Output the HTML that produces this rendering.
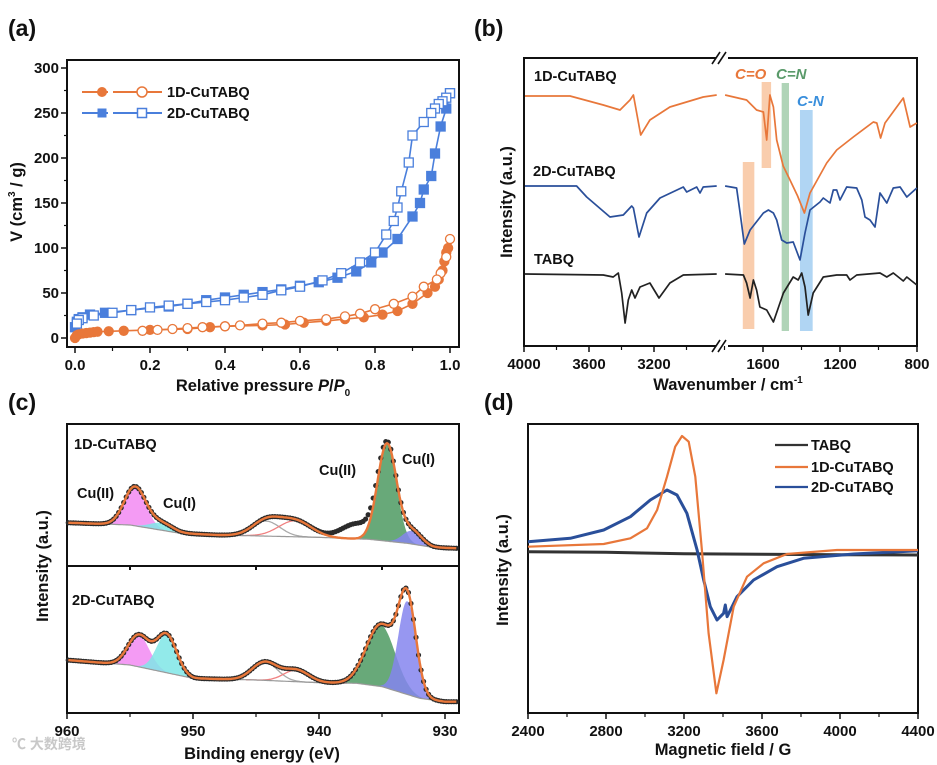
<!DOCTYPE html>
<html><head><meta charset="utf-8">
<style>
html,body{margin:0;padding:0;background:#fff;}
svg{display:block;}
text{font-family:"Liberation Sans",Arial,sans-serif;font-weight:bold;fill:#111;}
.tk{font-size:15px;}
.ttl{font-size:16.5px;}
.pl{font-size:23px;}
.lg{font-size:14.5px;}
</style></head>
<body>
<svg id="fig" width="937" height="765" viewBox="0 0 937 765" xmlns="http://www.w3.org/2000/svg">
<text class="pl" x="8" y="36">(a)</text>
<text class="pl" x="474" y="36">(b)</text>
<text class="pl" x="8" y="410">(c)</text>
<text class="pl" x="484" y="410">(d)</text>

<g>
<rect x="67" y="60" width="392" height="287" fill="none" stroke="#111" stroke-width="2"/>
<text class="ttl" x="263" y="391" text-anchor="middle">Relative pressure <tspan font-style="italic">P</tspan>/<tspan font-style="italic">P</tspan><tspan font-size="10" dy="5">0</tspan></text>
<text class="ttl" transform="translate(22,202) rotate(-90)" text-anchor="middle">V (cm<tspan font-size="10" dy="-7">3</tspan><tspan dy="7"> / g)</tspan></text>
<g id="legA">
<line x1="82" y1="92" x2="162" y2="92" stroke="#e8773a" stroke-width="2" stroke-dasharray="26,5"/>
<circle cx="102" cy="92" r="5" fill="#e8773a"/>
<circle cx="142" cy="92" r="5" fill="#fff" stroke="#e8773a" stroke-width="1.5"/>
<text class="lg" x="167" y="97">1D-CuTABQ</text>
<line x1="82" y1="113" x2="162" y2="113" stroke="#4a7fdc" stroke-width="2" stroke-dasharray="26,5"/>
<rect x="97.5" y="108.5" width="9" height="9" fill="#4a7fdc"/>
<rect x="137.5" y="108.5" width="9" height="9" fill="#fff" stroke="#4a7fdc" stroke-width="1.5"/>
<text class="lg" x="167" y="118">2D-CuTABQ</text>
</g>
</g>

<g>
<rect x="524" y="58" width="393" height="288" fill="none" stroke="#111" stroke-width="2"/>
<rect x="716" y="50" width="12" height="12" fill="#fff"/>
<rect x="716" y="340" width="12" height="12" fill="#fff"/>
<path d="M712 64 L720 52 M718 64 L726 52 M712 352 L720 340 M718 352 L726 340" stroke="#111" stroke-width="1.6"/>
<g id="bandsB"></g>
<text class="tk" x="735" y="79" style="fill:#e8773a;font-style:italic">C=O</text>
<text class="tk" x="776" y="79" style="fill:#5a9a6a;font-style:italic">C=N</text>
<text class="tk" x="797" y="106" style="fill:#3a8fdc;font-style:italic">C-N</text>
<text class="lg" x="534" y="81">1D-CuTABQ</text>
<text class="lg" x="533" y="176">2D-CuTABQ</text>
<text class="lg" x="534" y="264">TABQ</text>
<text class="ttl" x="728" y="390" text-anchor="middle">Wavenumber / cm<tspan font-size="10" dy="-7">-1</tspan></text>
<text class="ttl" transform="translate(512,202) rotate(-90)" text-anchor="middle">Intensity (a.u.)</text>
</g>

<g>
<rect x="67" y="424" width="392" height="289" fill="none" stroke="#111" stroke-width="2"/>
<line x1="67" y1="566" x2="459" y2="566" stroke="#111" stroke-width="2"/>
<text class="lg" x="74" y="449">1D-CuTABQ</text>
<text class="lg" x="72" y="605">2D-CuTABQ</text>
<text class="lg" x="77" y="498">Cu(II)</text>
<text class="lg" x="163" y="508">Cu(I)</text>
<text class="lg" x="319" y="475">Cu(II)</text>
<text class="lg" x="402" y="464">Cu(I)</text>
<text class="ttl" x="262" y="759" text-anchor="middle">Binding energy (eV)</text>
<text class="ttl" transform="translate(48,566) rotate(-90)" text-anchor="middle">Intensity (a.u.)</text>
<text x="12" y="749" style="font-size:14px;fill:#c8c8c8;font-family:'Liberation Sans','Noto Sans CJK SC',sans-serif">℃ 大数跨境</text>
</g>

<g>
<rect x="528" y="424" width="390" height="289" fill="none" stroke="#111" stroke-width="2"/>
<line x1="775" y1="445" x2="808" y2="445" stroke="#333" stroke-width="2.2"/>
<text class="lg" x="811" y="450">TABQ</text>
<line x1="775" y1="467" x2="808" y2="467" stroke="#e8773a" stroke-width="2.2"/>
<text class="lg" x="811" y="472">1D-CuTABQ</text>
<line x1="775" y1="487" x2="808" y2="487" stroke="#2a4f9a" stroke-width="2.2"/>
<text class="lg" x="811" y="492">2D-CuTABQ</text>
<text class="ttl" x="723" y="755" text-anchor="middle">Magnetic field / G</text>
<text class="ttl" transform="translate(508,570) rotate(-90)" text-anchor="middle">Intensity (a.u.)</text>
</g>
<g id="marks"></g>
</svg>
<script>
// ---------- Panel (a) data ----------
const a1AdsX=[0,0.005,0.01,0.02,0.03,0.04,0.05,0.06,0.09,0.13,0.2,0.3,0.36,0.4,0.5,0.56,0.61,0.67,0.72,0.77,0.82,0.86,0.9,0.94,0.96,0.97,0.98,0.985,0.99,0.995];
const a1AdsY=[0,3,4,5,5.5,6,6.5,7,7.5,8,9,10,12,13,14,15,17,19,21,23,26,30,38,50,57,65,75,85,95,100];
const a1DesX=[1.0,0.99,0.975,0.965,0.93,0.9,0.85,0.8,0.76,0.72,0.67,0.6,0.55,0.5,0.44,0.4,0.34,0.3,0.26,0.22,0.18];
const a1DesY=[110,90,72,65,57,46,38,32,27,24,21,19,17,16,14,13,12,11,10,9,8];
const a2AdsX=[0,0.005,0.01,0.02,0.04,0.08,0.15,0.25,0.3,0.35,0.4,0.45,0.5,0.55,0.6,0.65,0.7,0.75,0.79,0.82,0.86,0.9,0.92,0.93,0.95,0.96,0.975,0.99,1.0];
const a2AdsY=[12,18,21,23,26,28,31,35,38,42,45,48,51,54,58,62,67,74,84,95,110,135,150,165,180,205,235,255,272];
const a2DesX=[1.0,0.99,0.98,0.97,0.96,0.95,0.93,0.9,0.89,0.87,0.86,0.85,0.83,0.8,0.76,0.71,0.66,0.6,0.55,0.5,0.45,0.4,0.35,0.3,0.25,0.2,0.15,0.1,0.05,0.02,0.01,0.005];
const a2DesY=[272,267,263,260,255,250,240,225,195,163,145,130,115,95,84,72,64,57,53,48,45,42,40,38,36,34,31,28,25,22,20,16];
const aXTicks=[0,0.2,0.4,0.6,0.8,1.0];
const aXTickLabels=["0.0","0.2","0.4","0.6","0.8","1.0"];
const aYTicks=[0,50,100,150,200,250,300];

// ---------- Panel (b) data: [wavenumber, intensity a.u.] ----------
const ir1DLeft=[[3994,250],[3717,250],[3512,241],[3409,236],[3348,246],[3327,251],[3282,211],[3225,226],[3102,239],[2897,249],[2814,251]];
const ir1DRight=[[1797,251],[1685,246],[1633,236],[1598,234],[1581,206],[1564,251],[1546,239],[1529,206],[1495,180],[1460,166],[1420,150],[1385,133],[1356,153],[1269,183],[1217,196],[1131,209],[1027,224],[1009,223],[989,208],[966,223],[871,248],[836,219],[801,223]];
const ir2DLeft=[[3994,160],[3676,160],[3614,149],[3471,129],[3389,131],[3337,140],[3327,138],[3292,109],[3245,133],[3163,148],[3020,159],[2999,154],[2937,159],[2917,153],[2897,159],[2814,160]];
const ir2DRight=[[1797,160],[1737,158],[1719,133],[1697,102],[1667,116],[1598,133],[1572,136],[1546,133],[1529,126],[1503,106],[1477,103],[1443,104],[1408,86],[1382,113],[1356,136],[1304,144],[1287,148],[1252,143],[1235,156],[1217,156],[1200,146],[1165,159],[1113,158],[1087,146],[1070,129],[1044,126],[1018,119],[992,153],[957,143],[923,158],[888,159],[853,149],[801,158]];
const irTLeft=[[3994,72],[3512,71],[3451,69],[3420,73],[3399,53],[3378,23],[3358,46],[3337,56],[3317,48],[3286,59],[3225,63],[3169,48],[3102,63],[3020,71],[2814,72]];
const irTRight=[[1797,72],[1702,71],[1685,63],[1667,48],[1650,66],[1633,56],[1616,39],[1581,36],[1546,24],[1494,53],[1443,69],[1417,66],[1399,73],[1382,59],[1365,31],[1339,53],[1287,69],[1217,71],[1165,71],[1148,66],[1113,71],[992,73],[957,69],[923,73],[871,65],[853,69],[801,61]];
const bTicks=[4000,3600,3200,1600,1200,800];
const bMinor=[3800,3400,3000,1800,1400,1000];
const bBands=[[1607,1558,178,264,"#f7b88a","band-c-o-upper"],[1705,1645,17,184,"#f7b88a","band-c-o-lower"],[1503,1465,15,263,"#8fc29a","band-c-n-double"],[1408,1342,15,236,"#8ec3ee","band-c-n-single"]];

// ---------- Panel (c) data ----------
const cTopBg=[[960,132],[955,125],[951,100],[948,95],[940,88],[936,82],[933,70],[931,58],[929,55]];
const cTopPeaks=[[954.6,117,0.85,"#f28af2","pink"],[952.5,22,0.9,"#7fe6e6","cyan"],[944.2,45,1.1,"none","gray"],[941.9,48,1.3,"none","red"],[934.6,293,0.75,"#4e9a62","green"],[932.6,40,0.75,"#8585ee","blue"]];
const cTopExtra=[[937.0,45,1.2]];
const cBotBg=[[960,220],[955,205],[950,165],[945,160],[940,152],[937,150],[935,140],[932,105],[930,95],[929,95]];
const cBotPeaks=[[954.3,95,0.85,"#f28af2","pink"],[952.1,115,0.8,"#7fe6e6","cyan"],[944.3,55,1.0,"none","gray"],[941.8,35,1.0,"none","red"],[935.1,185,1.15,"#4e9a62","green"],[933.0,280,0.7,"#8585ee","blue"]];
const cTicks=[960,950,940,930];
const cMinor=[955,945,935];

// ---------- Panel (d) data ----------
const epr1D=[[2400,220],[2788,228],[2925,245],[3010,275],[3062,330],[3113,430],[3155,520],[3190,552],[3224,535],[3258,430],[3292,210],[3326,-40],[3366,-220],[3403,-120],[3455,40],[3523,130],[3608,170],[3728,198],[3985,210],[4400,210]];
const epr2D=[[2400,235],[2617,245],[2788,270],[2925,310],[3027,360],[3113,390],[3164,375],[3215,320],[3267,210],[3301,120],[3335,40],[3369,0],[3403,20],[3412,45],[3421,10],[3472,70],[3557,120],[3677,160],[3813,185],[4070,198],[4400,208]];
const eprT=[[2400,205],[2800,203],[3200,199],[3600,197],[4000,196],[4400,195]];
const dTicks=[2400,2800,3200,3600,4000,4400];
const dMinor=[2600,3000,3400,3800,4200];

const xA=v=>75+v*375, yA=v=>338-v*0.9;
const xB=w=>w>=2200?524+(4000-w)*65/400:763+(1600-w)*77/400, yB=v=>346-v;
const xC=e=>67+(960-e)*12.6, yCt=v=>400+(500-v)/3, yCb=v=>400+(1000-v)/3;
const xD=g=>528+(g-2400)*0.195, yD=v=>400+(660-v)/3;

const NS="http://www.w3.org/2000/svg";
const root=document.getElementById('marks');
function mk(tag,attrs,parent){const e=document.createElementNS(NS,tag);for(const k in attrs)e.setAttribute(k,attrs[k]);(parent||root).appendChild(e);return e;}
function pathOf(pts,fx,fy){return pts.map((p,i)=>(i?'L':'M')+fx(p[0]).toFixed(1)+' '+fy(p[1]).toFixed(1)).join(' ');}
function txt(x,y,s,anchor,name){const t=mk('text',{x:x,y:y,'text-anchor':anchor,'class':'tk'});t.textContent=s;


return t;}

aYTicks.forEach((v,i)=>{
 const l=mk('line',{x1:61,x2:67,y1:yA(v),y2:yA(v),stroke:'#111','stroke-width':1.5});
 
 
 txt(59,yA(v)+5,String(v),'end','y-tick-label-a');
 if(i<aYTicks.length-1){const m=mk('line',{x1:64,x2:67,y1:yA(v+25),y2:yA(v+25),stroke:'#111','stroke-width':1.2});
 
 }
});
aXTicks.forEach((v,i)=>{
 const l=mk('line',{x1:xA(v),x2:xA(v),y1:347,y2:353,stroke:'#111','stroke-width':1.5});
 
 
 txt(xA(v),370,aXTickLabels[i],'middle','x-tick-label-a');
 if(i<aXTicks.length-1){const m=mk('line',{x1:xA(v+0.1),x2:xA(v+0.1),y1:347,y2:351,stroke:'#111','stroke-width':1.2});
 
 }
});
function seriesA(xs,ys,color,shape,filled,name){
 const pts=xs.map((x,i)=>[x,ys[i]]);
 const p=mk('path',{d:pathOf(pts,xA,yA),fill:'none',stroke:color,'stroke-width':1.6});
 
 
 pts.forEach(q=>{
  let m;
  if(shape==='c') m=mk('circle',{cx:xA(q[0]),cy:yA(q[1]),r:4.5,fill:filled?color:'#fff',stroke:color,'stroke-width':1.3});
  else m=mk('rect',{x:xA(q[0])-4.5,y:yA(q[1])-4.5,width:9,height:9,fill:filled?color:'#fff',stroke:color,'stroke-width':1.3});
  
  
 });
}
seriesA(a2AdsX,a2AdsY,'#4a7fdc','s',true,'2d-adsorption');
seriesA(a2DesX,a2DesY,'#4a7fdc','s',false,'2d-desorption');
seriesA(a1AdsX,a1AdsY,'#e8773a','c',true,'1d-adsorption');
seriesA(a1DesX,a1DesY,'#e8773a','c',false,'1d-desorption');

const bandG=document.getElementById('bandsB');
bBands.forEach(b=>{
 const r=mk('rect',{x:xB(b[0]),y:yB(b[3]),width:xB(b[1])-xB(b[0]),height:b[3]-b[2],fill:b[4],opacity:0.7},bandG);
 
 
});
bTicks.forEach(w=>{
 const l=mk('line',{x1:xB(w),x2:xB(w),y1:346,y2:352,stroke:'#111','stroke-width':1.5});
 
 
 txt(xB(w),369,String(w),'middle','x-tick-label-b');
});
bMinor.forEach(w=>{
 const l=mk('line',{x1:xB(w),x2:xB(w),y1:346,y2:350,stroke:'#111','stroke-width':1.2});
 
 
});
[[ir1DLeft,'#e8773a','ir-1d-left'],[ir1DRight,'#e8773a','ir-1d-right'],[ir2DLeft,'#2a4f9a','ir-2d-left'],[ir2DRight,'#2a4f9a','ir-2d-right'],[irTLeft,'#222','ir-tabq-left'],[irTRight,'#222','ir-tabq-right']].forEach(s=>{
 const p=mk('path',{d:pathOf(s[0],xB,yB),fill:'none',stroke:s[1],'stroke-width':1.7,'stroke-linejoin':'round'});
 
 
});

function interp(arr,e){for(let i=0;i<arr.length-1;i++){const a=arr[i],b=arr[i+1];if(e<=a[0]&&e>=b[0]){const t=(a[0]-e)/(a[0]-b[0]);return a[1]+t*(b[1]-a[1]);}}return arr[arr.length-1][1];}
function gauss(p,e){return p[1]*Math.exp(-Math.pow(e-p[0],2)/(2*p[2]*p[2]));}
function xps(bg,peaks,extra,fy,tag){
 const es=[];for(let e=959.9;e>=929;e-=0.1)es.push(+e.toFixed(2));
 peaks.forEach(p=>{
  const lo=p[0]+4*p[2],hi=p[0]-4*p[2];
  const seg=es.filter(e=>e<=lo&&e>=hi);
  const top=seg.map(e=>[e,interp(bg,e)+gauss(p,e)]);
  if(p[3]!=='none'){
   const bot=seg.slice().reverse().map(e=>[e,interp(bg,e)]);
   const f=mk('path',{d:pathOf(top.concat(bot),xC,fy)+' Z',fill:p[3],opacity:0.85,stroke:'none'});
   
   
  } else {
   const l=mk('path',{d:pathOf(top,xC,fy),fill:'none',stroke:p[4]==='red'?'#f08080':'#aaa','stroke-width':1.3});
   
   
  }
 });
 const bgp=mk('path',{d:pathOf(es.map(e=>[e,interp(bg,e)]),xC,fy),fill:'none',stroke:'#999','stroke-width':1.2});
 
 
 const env=es.map(e=>[e,interp(bg,e)+peaks.reduce((s,p)=>s+gauss(p,e),0)]);
 const raw=env.map(q=>[q[0],q[1]+extra.reduce((s,p)=>s+gauss(p,q[0]),0)]);
 const rg=mk('g',{});
 
 
 raw.forEach((q,i)=>{if(i%2)return;mk('circle',{cx:xC(q[0]),cy:fy(q[1]),r:2.6,fill:'#2b2b2b'},rg);});
 const ep=mk('path',{d:pathOf(env,xC,fy),fill:'none',stroke:'#e8773a','stroke-width':2.4});
 
 
}
xps(cTopBg,cTopPeaks,cTopExtra,yCt,'1d-xps');
xps(cBotBg,cBotPeaks,[],yCb,'2d-xps');
cTicks.forEach(e=>{
 const l=mk('line',{x1:xC(e),x2:xC(e),y1:713,y2:719,stroke:'#111','stroke-width':1.5});
 
 
 txt(xC(e),736,String(e),'middle','x-tick-label-c');
});
cMinor.forEach(e=>{
 const l=mk('line',{x1:xC(e),x2:xC(e),y1:713,y2:717,stroke:'#111','stroke-width':1.2});
 
 
 const d=mk('line',{x1:xC(e),x2:xC(e),y1:566,y2:570,stroke:'#111','stroke-width':2});
 
 
});

dTicks.forEach(g=>{
 const l=mk('line',{x1:xD(g),x2:xD(g),y1:713,y2:719,stroke:'#111','stroke-width':1.5});
 
 
 txt(xD(g),736,String(g),'middle','x-tick-label-d');
});
dMinor.forEach(g=>{
 const l=mk('line',{x1:xD(g),x2:xD(g),y1:713,y2:717,stroke:'#111','stroke-width':1.2});
 
 
});
[[eprT,'#333','epr-tabq',3],[epr2D,'#2a4f9a','epr-2d',3],[epr1D,'#e8773a','epr-1d',2.2]].forEach(s=>{
 const p=mk('path',{d:pathOf(s[0],xD,yD),fill:'none',stroke:s[1],'stroke-width':s[3],'stroke-linejoin':'round'});
 
 
});
</script>
</body></html>
